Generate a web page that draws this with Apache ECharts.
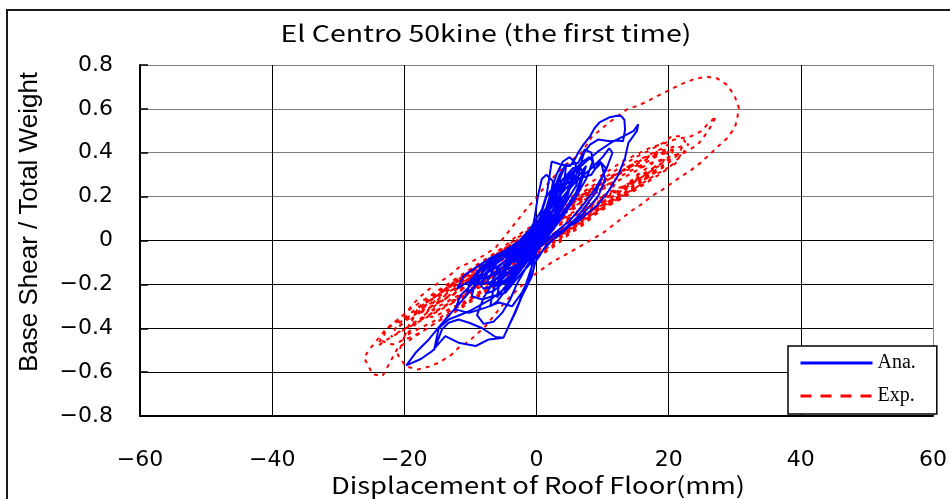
<!DOCTYPE html>
<html>
<head>
<meta charset="utf-8">
<script src="https://cdn.jsdelivr.net/npm/echarts@6/dist/echarts.min.js"></script>
<style>
  html, body { margin: 0; padding: 0; background: #ffffff; }
  #chart { width: 950px; height: 499px; }
</style>
</head>
<body>
<div id="chart"></div>
<script>
// Titles and labels
const chartTitle = 'El Centro 50kine (the first time)';
const xAxisTitle = 'Displacement of Roof Floor(mm)';
const yAxisTitle = 'Base Shear / Total Weight';
const seriesNames = ['Ana.', 'Exp.'];

// Axis ranges / tick steps
const xRange = [-60, 60, 20];
const yRange = [-0.8, 0.8, 0.2];

// Analysis: [roof displacement (mm), base shear / total weight], in time order
const anaLoops = [
  [0,0],[1.2,0.08],[2.5,0.14],[1.5,0.06],[0,-0.02],[-1.5,-0.07],[-3,-0.1],[-2,-0.03],[-0.5,0.03],[1.5,0.12],
  [3,0.18],[3.8,0.22],[2.5,0.1],[0.5,0],[-1.5,-0.09],[-3.5,-0.14],[-5,-0.16],[-4,-0.08],[-2,0],[0,0.08],
  [2,0.17],[4,0.25],[5.3,0.27],[4.5,0.18],[2.5,0.08],[0.3,-0.02],[-2,-0.12],[-4.5,-0.19],[-6.5,-0.21],[-7.5,-0.19],
  [-6,-0.1],[-3.5,-0.03],[-1,0.05],[0.8,0.14],[1.55,0.21],[2.3,0.36],[3.8,0.345],[5.1,0.34],[5.8,0.37],[6.3,0.4],
  [7.1,0.437],[8.1,0.475],[8.8,0.513],[9.6,0.54],[11.1,0.562],[12.4,0.57],[12.9,0.565],[13.3,0.55],[13.4,0.506],[13.1,0.452],
  [12.4,0.456],[11.1,0.452],[9.3,0.46],[8.1,0.437],[7.2,0.4],[6.8,0.36],[6,0.3],[4.8,0.22],[3,0.12],[1,0.02],
  [-0.5,-0.08],[-1,-0.163],[-2.2,-0.238],[-3.7,-0.3],[-5.7,-0.283],[-7.7,-0.306],[-10.2,-0.33],[-12.3,-0.314],[-11.5,-0.25],[-9.8,-0.2],
  [-8,-0.14],[-6.2,-0.094],[-4.2,-0.071],[-2,-0.02],[0,0.06],[1.5,0.15],[3,0.24],[4.3,0.339],[6.3,0.354],[7.3,0.415],
  [8.3,0.4],[8.8,0.323],[9.8,0.354],[10.4,0.278],[9.3,0.2],[7,0.12],[4,0.04],[1.5,-0.02],[-0.2,-0.1],[-0.7,-0.163],
  [-2.2,-0.254],[-3.2,-0.329],[-4.2,-0.39],[-5,-0.443],[-7.2,-0.451],[-9.2,-0.481],[-11.8,-0.466],[-13.8,-0.436],[-15.8,-0.504],[-17.5,-0.54],
  [-19.7,-0.569],[-18.3,-0.512],[-16.3,-0.451],[-13.8,-0.36],[-11.8,-0.292],[-9.8,-0.223],[-8.2,-0.163],[-6.2,-0.102],[-3.2,-0.041],[-1,0.03],
  [0.5,0.1],[1.5,0.2],[3,0.26],[5.3,0.3],[7.5,0.36],[9.5,0.41],[11.5,0.45],[13.5,0.48],[14.7,0.5],[15.4,0.53],
  [15.2,0.5],[14.5,0.47],[13.9,0.445],[13.4,0.377],[12.4,0.3],[10.9,0.225],[9.3,0.164],[6.3,0.088],[2.8,0.027],[0.5,-0.03],
  [-1.5,-0.1],[-4,-0.2],[-7,-0.27],[-10,-0.32],[-13.3,-0.36],[-14.8,-0.4],[-15.5,-0.5],[-14.3,-0.405],[-13.3,-0.375],[-11.8,-0.36],
  [-10.2,-0.375],[-8.2,-0.4],[-6.2,-0.44],[-5,-0.443],[-4.5,-0.41],[-3.6,-0.35],[-2.6,-0.28],[-1.6,-0.2],[-0.5,-0.1],[0.5,0],
  [2,0.14],[3.8,0.255],[5.3,0.27],[6.8,0.286],[8.3,0.3],[9.6,0.361],[10.5,0.33],[9,0.22],[6,0.1],[3,0.02],
  [0.5,-0.06],[-2,-0.14],[-4.7,-0.238],[-6.7,-0.254],[-8.2,-0.269],[-9.8,-0.254],[-9.2,-0.178],[-8.3,-0.117],[-6.2,-0.094],[-4.2,-0.071],
  [-2,0],[0,0.07],[2,0.15],[4.5,0.24],[6.5,0.3],[7.5,0.34],[6.5,0.24],[4.5,0.15],[2,0.05],[0,-0.03],
  [-2,-0.09],[-4.5,-0.15],[-7,-0.19],[-9,-0.2],[-8,-0.13],[-5,-0.06],[-2,0.01],[0.5,0.1],[2.5,0.2],[4,0.28],
  [5.5,0.33],[6.6,0.33],[6,0.25],[4,0.15],[2,0.06],[0,-0.02],[-2.5,-0.1],[-5,-0.17],[-7,-0.21],[-6,-0.13],
  [-3,-0.04],[0,0.02],[1,0.1],[2,0.2],[3,0.3],[4,0.36],[5,0.38],[6,0.35],[5.5,0.28],[4.5,0.2],
  [3,0.1],[1,0],[-1,-0.08],[-3,-0.15],[-5,-0.22],[-6,-0.26],[-5.5,-0.18],[-4,-0.1],[-2,-0.03],[0,0.04],
  [1.5,0.13],[3,0.22],[5,0.3],[7,0.36],[8,0.38],[8.5,0.36],[7.5,0.28],[6,0.2],[4,0.11],[2,0.03],
  [0,-0.05],[-1.5,-0.12],[-3,-0.2],[-4,-0.27],[-5.2,-0.33],[-6.5,-0.37],[-8,-0.38],[-9,-0.34],[-8,-0.26],[-6,-0.17],
  [-4,-0.1],[-2,-0.04],[0,0.03],[2,0.12],[4,0.2],[6,0.27],[8,0.32],[10,0.38],[11,0.42],[11.5,0.4],
  [10.5,0.32],[9,0.24],[7,0.16],[5,0.09],[3,0.04],[1,-0.01],[-1,-0.06],[-3,-0.11],[-5,-0.14],[-7,-0.16],
  [-9,-0.18],[-10,-0.2],[-9,-0.14],[-7,-0.09],[-5,-0.06],[-3,-0.02],[-1,0.02],[1,0.09],[2.5,0.17],[4,0.23],
  [5,0.25],[4,0.17],[2.5,0.09],[1,0.03],[-1,-0.05],[-2.5,-0.11],[-4,-0.16],[-5.5,-0.2],[-4.5,-0.13],[-3,-0.07],
  [-1.5,-0.03],[0,0.01],[1,0.06],[3,0.17],[4.5,0.26],[5.5,0.31],[4.8,0.23],[3.5,0.14],[1.5,0.05],[-0.5,-0.04],
  [-2.5,-0.12],[-4.5,-0.18],[-6.5,-0.23],[-7.5,-0.24],[-6.5,-0.17],[-4.5,-0.1],[-2.5,-0.04],[-0.5,0.03],[1.5,0.12],[3.5,0.21],
  [5,0.29],[6.5,0.34],[7,0.31],[6,0.22],[4,0.12],[2,0.04],[0,-0.04],[-2,-0.11],[-4,-0.17],[-6,-0.2],
  [-8,-0.22],[-8.5,-0.2],[-7,-0.13],[-5,-0.08],[-3,-0.03],[-1,0.02],[1,0.11],[2.5,0.22],[3.5,0.3],[4.5,0.35],
  [4.2,0.27],[3,0.17],[1.5,0.07],[0,-0.01],[-1.5,-0.09],[-3,-0.16],[-4.5,-0.22],[-6,-0.28],[-7,-0.3],[-6.5,-0.22],
  [-5,-0.14],[-3,-0.06],[-1,0],[-0.3,0.1],[0.2,0.2],[0.8,0.28],[1.5,0.3],[2.5,0.27],[2,0.18],[1,0.08],
  [0,-0.02],[-1,-0.02],[-3,-0.06],[-5,-0.1],[-7,-0.14],[-9,-0.17],[-11,-0.2],[-12,-0.22],[-11,-0.16],[-9,-0.12],
  [-7,-0.08],[-5,-0.05],[-3,-0.01],[-1,0.03],[1,0.08],[3,0.15],[4,0.2],[3,0.12],[1,0.04],[-1,-0.03],
  [-3,-0.08],[-5,-0.12],[-7,-0.16],[-9,-0.2],[-10.5,-0.24],[-10,-0.18],[-8,-0.12],[-6,-0.07],[-4,-0.04],[-2,-0.01],
  [0,0.02],[-1,-0.04],[0.5,0.06],[2,0.1],[3,0.13],[2,0.08],[0.5,0.02],[-1,-0.04],[-2.5,-0.08],[-1.5,-0.04],
  [0,0.01],[1,0.07],[2,0.12],[3.5,0.16],[2,0.07],[0,-0.01],[-2,-0.07],[-3.5,-0.1],[-2,-0.03],[0,0.02]
];

// Experiment: [roof displacement (mm), base shear / total weight], in time order
const expLoops = [
  [0,0],[2,0.06],[4,0.1],[5,0.11],[4,0.05],[2,0],[0,-0.04],[-2,-0.08],[-4,-0.1],[-5,-0.11],[-4,-0.05],[-2,0],[0,0.03],
  [2,0.08],[4,0.12],[6,0.15],[8,0.18],[7,0.12],[5,0.06],[3,0.02],[1,-0.02],[-1,-0.06],[-3,-0.1],[-5,-0.14],[-7,-0.17],
  [-8,-0.18],[-7,-0.12],[-5,-0.07],[-3,-0.02],[-1,0.02],
  [1,0.07],[3,0.11],[5,0.15],[7,0.19],[9,0.23],[11,0.26],[12,0.27],[11,0.2],[9,0.15],[7,0.1],[5,0.06],[3,0.02],
  [1,-0.03],[-1,-0.07],[-3,-0.11],[-5,-0.15],[-7,-0.19],[-9,-0.22],[-11,-0.26],[-12,-0.27],[-11,-0.2],[-9,-0.15],
  [-7,-0.11],[-5,-0.06],[-3,-0.02],[-1,0.03],
  [1,0.07],[3,0.12],[5,0.16],[7,0.2],[9,0.24],[11,0.28],[13,0.31],[15,0.34],[16,0.35],[15,0.28],[13,0.23],[11,0.18],
  [9,0.14],[7,0.1],[5,0.05],[3,0.01],[1,-0.04],[-1,-0.08],[-3,-0.12],[-5,-0.16],[-7,-0.2],[-9,-0.24],[-11,-0.28],
  [-13,-0.31],[-15,-0.34],[-16,-0.35],[-15,-0.28],[-13,-0.23],[-11,-0.19],[-9,-0.14],[-7,-0.1],[-5,-0.05],[-3,0],[-1,0.04],
  [1,0.08],[3,0.13],[5,0.17],[7,0.21],[9,0.25],[11,0.29],[13,0.32],[15,0.36],[17,0.39],[19,0.42],[19.9,0.437],[19,0.37],
  [17,0.31],[15,0.27],[13,0.22],[11,0.18],[9,0.13],[7,0.09],[5,0.04],[3,0],[1,-0.05],[-1,-0.09],[-3,-0.13],[-5,-0.17],
  [-7,-0.21],[-9,-0.25],[-11,-0.29],[-13,-0.32],[-15,-0.36],[-17,-0.39],[-19,-0.42],[-20,-0.44],[-19,-0.36],[-17,-0.3],
  [-15,-0.25],[-13,-0.2],[-11,-0.16],[-9,-0.12],[-7,-0.08],[-5,-0.04],[-3,0.01],[-1,0.05],
  [1,0.09],[3,0.14],[5,0.18],[7,0.22],[9,0.26],[11,0.3],[13,0.34],[15,0.38],[17,0.41],[19.6,0.452],[20.4,0.475],
  [21.9,0.475],[22.5,0.45],[21.4,0.39],[19,0.33],[17,0.29],[15,0.25],[13,0.2],[11,0.16],[9,0.12],[7,0.07],[5,0.03],
  [3,-0.02],[1,-0.06],[-1,-0.1],[-3,-0.14],[-5,-0.18],[-7,-0.22],[-9,-0.26],[-11,-0.3],[-13,-0.34],[-15,-0.37],
  [-17,-0.41],[-19,-0.44],[-21.8,-0.474],[-23.3,-0.459],[-22.8,-0.405],[-21,-0.36],[-19,-0.31],[-17,-0.27],[-15,-0.23],
  [-13,-0.19],[-11,-0.15],[-9,-0.11],[-7,-0.07],[-5,-0.03],[-3,0.02],[-1,0.06],
  [1,0.1],[3,0.15],[5,0.19],[7,0.24],[9,0.28],[11,0.32],[13,0.36],[15,0.39],[17,0.42],[19,0.44],[20.9,0.46],
  [23.4,0.475],[24.9,0.498],[25.9,0.53],[27.2,0.566],[26,0.5],[24.4,0.437],[22.4,0.4],[20.9,0.39],[19,0.34],[17,0.3],
  [15,0.26],[13,0.21],[11,0.17],[9,0.13],[7,0.08],[5,0.04],[3,-0.01],[1,-0.05],[-1,-0.09],[-3,-0.13],[-5,-0.17],
  [-7,-0.21],[-9,-0.25],[-11,-0.29],[-13,-0.33],[-15,-0.37],[-17,-0.41],[-19,-0.45],[-21,-0.49],[-23.3,-0.618],
  [-24.8,-0.61],[-26.1,-0.534],[-25.3,-0.497],[-22.8,-0.405],[-19.8,-0.33],[-17.8,-0.261],[-16.3,-0.223],[-14.8,-0.193],
  [-13.3,-0.163],[-11.8,-0.124],[-10.2,-0.102],[-8.2,-0.072],[-6.2,-0.033],[-4.2,0.042],[-2.2,0.118],[-1.2,0.156],
  [0.15,0.2],[0.8,0.228],[3.3,0.313],[4.8,0.354],[6.8,0.4],[8.3,0.47],[10.9,0.536],[13.8,0.6],[15.4,0.615],[17.1,0.64],
  [18.7,0.665],[20.4,0.69],[22,0.714],[23.8,0.735],[25.7,0.747],[27.4,0.738],[28.9,0.708],[30,0.657],[30.6,0.607],
  [30.4,0.559],[30,0.513],[28.8,0.465],[27.5,0.43],[26.2,0.392],[24.8,0.354],[23.3,0.319],[21.9,0.292],[20.4,0.26],
  [18.9,0.228],[17.4,0.202],[16,0.167],[14.5,0.138],[13,0.103],[10.4,0.042],[8.8,0.012],[5.3,-0.049],[2.3,-0.1],
  [-1,-0.17],[-4.7,-0.277],[-7.7,-0.39],[-10.2,-0.459],[-11.8,-0.489],[-13,-0.524],[-14.8,-0.557],[-16.3,-0.575],
  [-18,-0.588],[-19.8,-0.573],[-21,-0.52],[-20,-0.44],[-18,-0.37],[-16,-0.31],[-14,-0.27],[-12,-0.22],[-10,-0.17],
  [-8,-0.13],[-6,-0.08],[-4,-0.03],[-2,0.01],[0,0.05],[2,0.1],[4,0.14],[6,0.18],[8,0.22],[10,0.26],[12,0.3],[14,0.33],
  [16,0.37],[18,0.4],[18.5,0.41],[17.5,0.35],[15,0.29],[13,0.24],[11,0.2],[9,0.15],[7,0.11],[5,0.07],[3,0.02],[1,-0.02],
  [-1,-0.06],[-3,-0.1],[-5,-0.13],[-7,-0.17],[-9,-0.21],[-11,-0.25],[-13,-0.29],[-14,-0.3],[-12,-0.23],[-10,-0.18],
  [-8,-0.14],[-6,-0.1],[-4,-0.06],[-2,-0.02],[0,0.02],
  [3,0.1],[6,0.16],[9,0.22],[12,0.28],[15,0.33],[18,0.38],[21,0.42],[23,0.44],[22,0.39],[20,0.33],[17,0.27],[14,0.21],
  [11,0.16],[8,0.1],[5,0.05],[2,0],[-1,-0.05],[-4,-0.11],[-7,-0.17],[-10,-0.23],[-13,-0.29],[-16,-0.34],[-19,-0.39],
  [-22,-0.44],[-24,-0.48],[-23,-0.41],[-20,-0.35],[-17,-0.29],[-14,-0.23],[-11,-0.17],[-8,-0.11],[-5,-0.05],[-2,0.01],
  [1,0.07],[4,0.15],[7,0.21],[10,0.27],[13,0.32],[16,0.36],[18,0.39],[20,0.41],[19,0.35],[16,0.29],[13,0.23],[10,0.17],
  [7,0.11],[4,0.05],[1,-0.01],[-2,-0.07],[-5,-0.13],[-8,-0.19],[-11,-0.25],[-14,-0.3],[-17,-0.35],[-19,-0.38],[-18,-0.31],
  [-15,-0.25],[-12,-0.19],[-9,-0.13],[-6,-0.07],[-3,-0.01],[0,0.04],
  [2,0.09],[5,0.14],[8,0.2],[11,0.25],[14,0.3],[17,0.35],[20,0.38],[22,0.4],[21,0.35],[18,0.3],[15,0.24],[12,0.19],
  [9,0.14],[6,0.08],[3,0.03],[0,-0.03],[-3,-0.08],[-6,-0.14],[-9,-0.2],[-12,-0.26],[-15,-0.32],[-18,-0.37],[-21,-0.42],
  [-22,-0.44],[-21,-0.38],[-18,-0.32],[-15,-0.27],[-12,-0.21],[-9,-0.15],[-6,-0.09],[-3,-0.03],[0,0.02],
  [3,0.07],[6,0.12],[9,0.17],[12,0.22],[15,0.27],[17,0.31],[16,0.26],[13,0.2],[10,0.15],[7,0.09],[4,0.03],[1,-0.02],
  [-2,-0.08],[-5,-0.12],[-8,-0.17],[-11,-0.22],[-14,-0.27],[-17,-0.32],[-18,-0.34],[-16,-0.27],[-13,-0.21],[-10,-0.16],
  [-7,-0.12],[-4,-0.07],[-1,-0.02],
  [2,0.1],[5,0.16],[8,0.23],[11,0.28],[14,0.34],[17,0.38],[19,0.41],[21,0.43],[20,0.37],[17,0.32],[14,0.26],[11,0.21],
  [8,0.15],[5,0.1],[2,0.04],[-1,-0.02],[-4,-0.08],[-7,-0.14],[-10,-0.2],[-13,-0.25],[-16,-0.3],[-18,-0.33],[-20,-0.37],
  [-21,-0.4],[-19,-0.33],[-16,-0.26],[-13,-0.2],[-10,-0.14],[-7,-0.08],[-4,-0.02],[-1,0.04],
  [2,0.07],[5,0.12],[8,0.17],[11,0.22],[14,0.26],[16,0.29],[18,0.33],[17,0.27],[14,0.22],[11,0.18],[8,0.13],[5,0.08],
  [2,0.02],[-1,-0.04],[-4,-0.1],[-7,-0.16],[-10,-0.22],[-13,-0.27],[-16,-0.32],[-17,-0.34],[-15,-0.26],[-12,-0.2],
  [-9,-0.15],[-6,-0.1],[-3,-0.04],[0,0.01],
  [2,0.06],[4,0.1],[6,0.13],[8,0.16],[10,0.2],[9,0.16],[7,0.12],[5,0.08],[3,0.04],[1,0],[-1,-0.03],[-3,-0.07],
  [-5,-0.1],[-3,-0.05],[-1,-0.01],[0,0]
];

const MINUS = '\u2212';
function fmtTick(v) {
  const r = Math.round(v * 10) / 10;
  if (r === 0) return '0';
  return (r < 0 ? MINUS : '') + String(Math.abs(r));
}

const chart = echarts.init(document.getElementById('chart'), null, { renderer: 'canvas' });

chart.setOption({
  animation: false,
  backgroundColor: '#ffffff',
  grid: { left: 140, right: 14, top: 65, bottom: 83, containLabel: false },
  xAxis: {
    type: 'value',
    min: xRange[0], max: xRange[1], interval: xRange[2],
    axisLine: { onZero: false, lineStyle: { color: '#000', width: 2 } },
    axisTick: { show: false },
    axisLabel: { margin: 33, fontFamily: 'DejaVu Sans', fontSize: 22, color: '#000', formatter: fmtTick },
    splitLine: { show: true, lineStyle: { color: ['#000','#000','#000','#000','#000','#000','#888'], width: 1 } }
  },
  yAxis: {
    type: 'value',
    min: yRange[0], max: yRange[1], interval: yRange[2],
    axisLine: { onZero: false, lineStyle: { color: '#000', width: 2 } },
    axisTick: { show: true, inside: true, length: 8, lineStyle: { color: '#000', width: 1.5 } },
    axisLabel: { margin: 27, fontFamily: 'DejaVu Sans', fontSize: 22, color: '#000', formatter: fmtTick },
    splitLine: { show: true, lineStyle: { color: ['#000','#000','#000','#000','#000','#808080','#808080','#808080','#808080'], width: 1 } }
  },
  legend: {
    data: [
      { name: seriesNames[0] },
      { name: seriesNames[1], lineStyle: { type: [11, 9] } }
    ],
    orient: 'vertical',
    left: 788, top: 346,
    padding: [7, 21, 8, 11],
    itemWidth: 72, itemHeight: 14, itemGap: 13,
    backgroundColor: '#ffffff',
    borderColor: '#000', borderWidth: 1.5, borderRadius: 0,
    itemStyle: { opacity: 0 },
    lineStyle: { width: 3 },
    textStyle: { fontFamily: 'Liberation Serif', fontSize: 20, color: '#000' }
  },
  graphic: [
    { type: 'rect', z: -10, silent: true, shape: { x: 7, y: 10, width: 960, height: 520 },
      style: { fill: 'none', stroke: '#1a1a1a', lineWidth: 2 } },
    { type: 'text', x: 486, y: 33, scaleX: 1.24, silent: true,
      style: { text: chartTitle, font: '23px "Noto Sans CJK JP"', fill: '#000', textAlign: 'center', textVerticalAlign: 'middle' } },
    { type: 'text', x: 538, y: 485, scaleX: 1.19, silent: true,
      style: { text: xAxisTitle, font: '23px "Noto Sans CJK JP"', fill: '#000', textAlign: 'center', textVerticalAlign: 'middle' } },
    { type: 'text', x: 30, y: 222, rotation: Math.PI / 2, silent: true,
      style: { text: yAxisTitle, font: '26px "Liberation Sans"', fill: '#000', textAlign: 'center', textVerticalAlign: 'middle' } }
  ],
  series: [
    {
      name: seriesNames[1], type: 'line', data: expLoops, z: 2,
      symbol: 'none', smooth: false, sampling: null,
      lineStyle: { color: '#ff0000', width: 2, type: [4, 5] },
      itemStyle: { color: '#ff0000' }
    },
    {
      name: seriesNames[0], type: 'line', data: anaLoops, z: 3,
      symbol: 'none', smooth: false,
      lineStyle: { color: '#0000ff', width: 2, type: 'solid' },
      itemStyle: { color: '#0000ff' }
    }
  ]
});
</script>
</body>
</html>
